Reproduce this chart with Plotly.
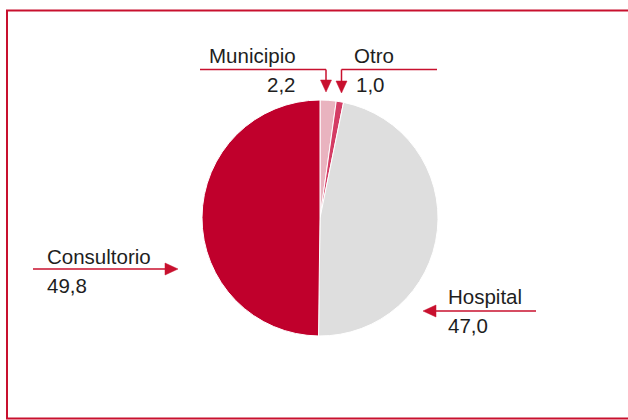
import plotly.graph_objects as go

# Shares by place of care (%), clockwise from 12 o'clock
labels = ["Municipio", "Otro", "Hospital", "Consultorio"]
values = [2.2, 1.0, 47.0, 49.8]
colors = ["#e9b3bf", "#d43c64", "#dedede", "#c0002c"]

W, H = 628, 420
RED = "#c8102e"
TXT = "#1e1e1e"


def px(x):
    return x / W


def py(y):
    return 1 - y / H


def fmt(v):
    return f"{v:.1f}".replace(".", ",")


fig = go.Figure(
    go.Pie(
        labels=labels,
        values=values,
        sort=False,
        direction="clockwise",
        rotation=0,
        marker=dict(colors=colors, line=dict(color="white", width=1)),
        textinfo="none",
        hoverinfo="label+value",
        domain=dict(x=[px(202), px(438)], y=[py(336), py(100)]),
        showlegend=False,
    )
)

shapes = [
    # outer frame
    dict(type="rect", xref="paper", yref="paper",
         x0=px(7), x1=px(640), y0=py(418.5), y1=py(10.5),
         line=dict(color=RED, width=2), fillcolor="rgba(0,0,0,0)"),
]


def line(x0, y0, x1, y1):
    return dict(type="line", xref="paper", yref="paper",
                x0=px(x0), y0=py(y0), x1=px(x1), y1=py(y1),
                line=dict(color=RED, width=1.5))


def tri(points):
    path = "M " + " L ".join(f"{px(x)},{py(y)}" for x, y in points) + " Z"
    return dict(type="path", xref="paper", yref="paper", path=path,
                fillcolor=RED, line=dict(color=RED, width=0.5))


# leader lines and arrowheads
shapes += [
    line(200, 69.5, 326, 69.5), line(326, 69.5, 326, 82),
    tri([(320.5, 80), (331.5, 80), (326, 92)]),
    line(437, 69.5, 341.5, 69.5), line(341.5, 69.5, 341.5, 83),
    tri([(336, 81), (347, 81), (341.5, 93)]),
    line(33, 269, 166, 269),
    tri([(165, 263), (165, 275), (178, 269)]),
    line(536, 311, 435, 311),
    tri([(436, 305), (436, 317), (423, 311)]),
]

font = dict(family="Liberation Sans, Arial, sans-serif", size=20.5, color=TXT)


def text(s, x, y, anchor):
    return dict(text=s, x=px(x), y=py(y), xref="paper", yref="paper",
                xanchor=anchor, yanchor="middle", showarrow=False, font=font)


v = dict(zip(labels, values))
annotations = [
    text(labels[0], 298, 56, "right"), text(fmt(v["Municipio"]), 298, 85, "right"),
    text(labels[1], 352, 56, "left"), text(fmt(v["Otro"]), 354, 85, "left"),
    text(labels[3], 45, 256, "left"), text(fmt(v["Consultorio"]), 45, 285, "left"),
    text(labels[2], 446, 296, "left"), text(fmt(v["Hospital"]), 446, 325, "left"),
]

fig.update_layout(
    width=W, height=H,
    margin=dict(l=0, r=0, t=0, b=0),
    paper_bgcolor="white", plot_bgcolor="white",
    shapes=shapes, annotations=annotations,
)

fig.write_html("out.html")
